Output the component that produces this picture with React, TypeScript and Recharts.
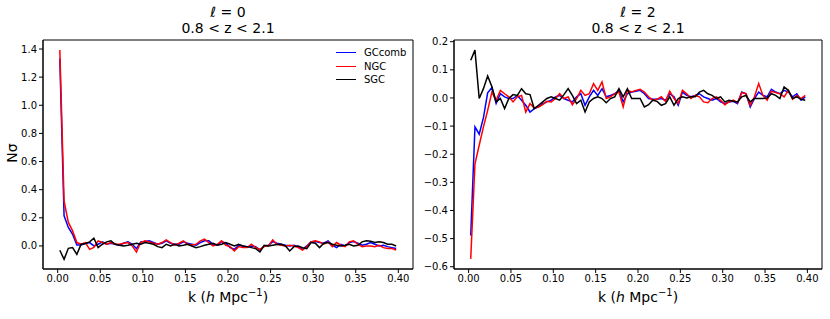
import React from "react";
import { LineChart, Line, XAxis, YAxis, ReferenceArea } from "recharts";

// k bins (h/Mpc)
const K = [
  0.0025, 0.0075, 0.0125, 0.0175, 0.0225, 0.0275, 0.0325, 0.0375, 0.0425, 0.0475,
  0.0525, 0.0575, 0.0625, 0.0675, 0.0725, 0.0775, 0.0825, 0.0875, 0.0925, 0.0975,
  0.1025, 0.1075, 0.1125, 0.1175, 0.1225, 0.1275, 0.1325, 0.1375, 0.1425, 0.1475,
  0.1525, 0.1575, 0.1625, 0.1675, 0.1725, 0.1775, 0.1825, 0.1875, 0.1925, 0.1975,
  0.2025, 0.2075, 0.2125, 0.2175, 0.2225, 0.2275, 0.2325, 0.2375, 0.2425, 0.2475,
  0.2525, 0.2575, 0.2625, 0.2675, 0.2725, 0.2775, 0.2825, 0.2875, 0.2925, 0.2975,
  0.3025, 0.3075, 0.3125, 0.3175, 0.3225, 0.3275, 0.3325, 0.3375, 0.3425, 0.3475,
  0.3525, 0.3575, 0.3625, 0.3675, 0.3725, 0.3775, 0.3825, 0.3875, 0.3925, 0.3975,
];

// monopole, l = 0
const L0_GC = [
  1.333, 0.214, 0.131, 0.083, 0.007, 0.007, 0.017, 0.024, 0.0, 0.012,
  0.029, 0.012, 0.019, 0.012, 0.005, 0.019, 0.029, 0.012, -0.019, 0.029,
  0.031, 0.036, 0.024, 0.012, 0.019, 0.036, 0.019, 0.012, 0.012, 0.029,
  0.019, 0.012, 0.005, 0.024, 0.036, 0.036, 0.012, 0.005, 0.031, 0.019,
  -0.012, -0.024, 0.005, 0.0, -0.007, 0.0, -0.005, -0.029, 0.0, 0.005,
  0.031, 0.019, 0.012, 0.005, 0.0, 0.005, -0.005, -0.024, 0.0, 0.029,
  0.031, 0.024, 0.019, 0.036, 0.005, -0.012, 0.012, 0.0, 0.024, 0.031,
  0.019, 0.005, 0.012, 0.024, 0.012, 0.0, 0.005, -0.005, -0.012, -0.019,
];
const L0_NGC = [
  1.393, 0.32, 0.167, 0.107, 0.024, 0.012, 0.024, -0.024, -0.01, 0.036,
  0.024, 0.012, 0.024, 0.012, 0.012, 0.019, 0.024, 0.0, -0.043, 0.024,
  0.036, 0.029, 0.019, 0.012, 0.024, 0.043, 0.024, 0.005, 0.019, 0.036,
  0.012, 0.007, 0.012, 0.036, 0.048, 0.024, 0.0, 0.012, 0.036, 0.005,
  -0.005, -0.036, -0.005, -0.012, -0.012, 0.012, -0.012, -0.024, -0.005, 0.0,
  0.043, 0.012, 0.005, 0.0, 0.005, 0.0, -0.012, -0.029, -0.005, 0.029,
  0.036, 0.029, 0.012, 0.029, -0.005, 0.024, 0.005, -0.005, 0.029, 0.036,
  0.012, -0.005, 0.0, 0.0, -0.005, 0.005, -0.012, -0.019, -0.019, -0.029,
];
const L0_SGC = [
  -0.031, -0.095, -0.017, -0.012, -0.06, 0.012, 0.017, 0.029, 0.055, -0.012,
  0.012, 0.029, 0.036, 0.012, 0.005, 0.0, 0.005, 0.012, 0.019, 0.012,
  0.024, 0.019, 0.012, -0.005, -0.012, 0.012, 0.0, 0.012, 0.0, 0.005,
  0.012, 0.0, -0.012, -0.005, 0.005, 0.012, 0.019, 0.005, 0.012, 0.024,
  0.012, 0.0, 0.012, 0.0, -0.005, -0.012, -0.019, -0.043, 0.005, 0.0,
  0.005, 0.01, 0.012, 0.0, -0.036, -0.005, 0.0, -0.012, -0.019, 0.024,
  0.019, -0.012, 0.019, 0.024, 0.012, 0.005, 0.0, 0.005, 0.012, 0.0,
  0.005, 0.029, 0.036, 0.033, 0.024, 0.029, 0.024, 0.012, 0.012, 0.0,
];

// quadrupole, l = 2
const L2_GC = [
  -0.489, -0.103, -0.129, -0.07, 0.018, 0.037, -0.02, 0.015, 0.004, -0.002,
  -0.002, 0.009, -0.008, -0.026, -0.05, -0.038, -0.032, -0.02, -0.014, -0.008,
  0.004, 0.009, -0.002, -0.008, -0.014, 0.004, 0.015, -0.026, 0.004, 0.027,
  0.009, 0.033, 0.004, 0.009, 0.015, 0.027, -0.014, 0.015, 0.021, 0.024,
  0.027, 0.015, -0.002, -0.005, -0.005, -0.002, -0.008, 0.015, 0.004, -0.026,
  0.021, 0.009, 0.004, 0.009, 0.015, 0.004, -0.002, -0.008, -0.002, -0.014,
  -0.02, -0.014, -0.012, -0.02, 0.021, 0.015, -0.032, -0.002, 0.021, 0.009,
  0.004, 0.031, 0.021, 0.015, 0.027, 0.021, 0.004, 0.015, -0.008, 0.004,
];
const L2_NGC = [
  -0.572, -0.234, -0.168, -0.103, -0.044, 0.021, -0.008, 0.027, 0.015, 0.004,
  -0.014, 0.004, 0.009, -0.05, -0.02, -0.036, -0.032, -0.024, -0.012, -0.014,
  -0.002, 0.015, -0.002, 0.004, -0.024, -0.002, 0.027, 0.009, 0.015, 0.051,
  0.027, 0.057, -0.002, 0.004, 0.015, 0.021, -0.032, 0.027, 0.021, 0.027,
  0.031, 0.021, 0.004, -0.008, -0.005, 0.004, -0.012, 0.024, -0.002, -0.02,
  0.027, 0.015, -0.002, 0.009, 0.004, -0.014, -0.017, -0.002, 0.004, -0.008,
  -0.024, -0.014, -0.008, -0.017, 0.019, 0.015, -0.026, 0.004, 0.051, 0.009,
  -0.008, 0.024, 0.019, 0.015, 0.004, 0.027, -0.005, 0.009, -0.002, 0.009,
];
const L2_SGC = [
  0.134, 0.17, -0.002, 0.033, 0.078, 0.04, -0.014, -0.002, -0.038, -0.002,
  0.012, 0.009, 0.033, 0.015, 0.012, -0.038, -0.026, -0.014, -0.002, 0.004,
  -0.002, -0.008, 0.012, 0.033, 0.009, -0.02, -0.008, -0.05, -0.014, -0.002,
  0.004, -0.002, -0.017, -0.002, 0.004, 0.033, 0.004, 0.033, -0.002, -0.002,
  -0.002, -0.032, -0.024, -0.008, -0.012, -0.026, -0.02, 0.004, -0.026, -0.002,
  0.004, 0.0, 0.004, 0.004, 0.021, 0.027, 0.015, 0.009, -0.002, 0.004,
  -0.014, -0.008, -0.012, -0.014, 0.004, 0.009, -0.014, -0.002, -0.002, -0.002,
  0.0, 0.015, 0.009, -0.002, 0.039, 0.027, -0.002, 0.004, -0.005, -0.008,
];

const X_TICKS = [0, 0.05, 0.1, 0.15, 0.2, 0.25, 0.3, 0.35, 0.4];
const L0_Y_TICKS = [0, 0.2, 0.4, 0.6, 0.8, 1.0, 1.2, 1.4];
const L2_Y_TICKS = [-0.6, -0.5, -0.4, -0.3, -0.2, -0.1, 0, 0.1, 0.2];

const X_DOMAIN = [-0.01725, 0.41725];
const L0_DOMAIN = [-0.164, 1.464];
const L2_DOMAIN = [-0.608, 0.206];

const SERIES = [
  { key: "gc", name: "GCcomb", color: "#0000ff" },
  { key: "ngc", name: "NGC", color: "#ff0000" },
  { key: "sgc", name: "SGC", color: "#000000" },
];

const l0Data = K.map((k, i) => ({ k, gc: L0_GC[i], ngc: L0_NGC[i], sgc: L0_SGC[i] }));
const l2Data = K.map((k, i) => ({ k, gc: L2_GC[i], ngc: L2_NGC[i], sgc: L2_SGC[i] }));

const FONT = "'DejaVu Sans', sans-serif";
const tickStyle = { fontSize: 10, fill: "#000", fontFamily: FONT };
const fmtY = (v: number) => v.toFixed(1).replace("-", "\u2212");
const fmtX = (v: number) => v.toFixed(2);

function LegendBox({ left, top }: { left: number; top: number }) {
  return (
    <div style={{ position: "absolute", left, top, fontFamily: FONT, fontSize: 10, color: "#000" }}>
      {SERIES.map((s) => (
        <div key={s.key} style={{ display: "flex", alignItems: "center", height: 13.5 }}>
          <div style={{ width: 20, height: 0, borderTop: `1.5px solid ${s.color}`, marginRight: 8 }} />
          <span>{s.name}</span>
        </div>
      ))}
    </div>
  );
}

function Panel(props: {
  data: any[];
  yDomain: number[];
  yTicks: number[];
  width: number;
  yAxisWidth: number;
  right: number;
}) {
  const { data, yDomain, yTicks, width, yAxisWidth, right } = props;
  return (
    <LineChart width={width} height={319} data={data} margin={{ top: 40, right, bottom: 0, left: 0 }}>
      <XAxis
        dataKey="k"
        type="number"
        domain={X_DOMAIN}
        ticks={X_TICKS}
        interval={0}
        allowDataOverflow
        tickFormatter={fmtX}
        tick={tickStyle}
        tickSize={4}
        height={50}
        axisLine={{ stroke: "#000" }}
        tickLine={{ stroke: "#000" }}
      />
      <YAxis
        type="number"
        domain={yDomain}
        ticks={yTicks}
        interval={0}
        allowDataOverflow
        tickFormatter={fmtY}
        tick={tickStyle}
        tickSize={4}
        width={yAxisWidth}
        axisLine={{ stroke: "#000" }}
        tickLine={{ stroke: "#000" }}
      />
      {SERIES.map((s) => (
        <Line
          key={s.key}
          dataKey={s.key}
          name={s.name}
          stroke={s.color}
          strokeWidth={1.5}
          dot={false}
          type="linear"
          isAnimationActive={false}
        />
      ))}
      <ReferenceArea
        x1={X_DOMAIN[0]}
        x2={X_DOMAIN[1]}
        y1={yDomain[0]}
        y2={yDomain[1]}
        fill="none"
        stroke="#000"
        strokeWidth={1}
        ifOverflow="visible"
      />
    </LineChart>
  );
}

const textBase: React.CSSProperties = {
  position: "absolute",
  fontFamily: FONT,
  color: "#000",
  whiteSpace: "nowrap",
  textAlign: "center",
};

function XLabel({ cx }: { cx: number }) {
  return (
    <div style={{ ...textBase, left: cx - 100, width: 200, top: 287, fontSize: 14 }}>
      k (<i>h</i> Mpc<sup style={{ fontSize: 10 }}>{"\u22121"}</sup>)
    </div>
  );
}

function Title({ cx, l }: { cx: number; l: string }) {
  return (
    <div style={{ ...textBase, left: cx - 100, width: 200, top: 4, fontSize: 14, lineHeight: "16px" }}>
      <div>{`\u2113 = ${l}`}</div>
      <div>0.8 &lt; z &lt; 2.1</div>
    </div>
  );
}

export default function App() {
  return (
    <div style={{ position: "absolute", left: 0, top: 0, width: 830, height: 319, background: "#fff", overflow: "hidden" }}>
      <div style={{ position: "absolute", left: 0, top: 0 }}>
        <Panel data={l0Data} yDomain={L0_DOMAIN} yTicks={L0_Y_TICKS} width={420} yAxisWidth={43} right={7} />
      </div>
      <div style={{ position: "absolute", left: 420, top: 0 }}>
        <Panel data={l2Data} yDomain={L2_DOMAIN} yTicks={L2_Y_TICKS} width={410} yAxisWidth={34} right={8} />
      </div>
      <LegendBox left={336} top={46} />
      <Title cx={228} l="0" />
      <Title cx={638} l="2" />
      <XLabel cx={228} />
      <XLabel cx={638} />
      <div
        style={{
          ...textBase,
          left: 12 - 20,
          width: 40,
          top: 145,
          fontSize: 14,
          transform: "rotate(-90deg)",
        }}
      >
        N{"\u03c3"}
      </div>
    </div>
  );
}
